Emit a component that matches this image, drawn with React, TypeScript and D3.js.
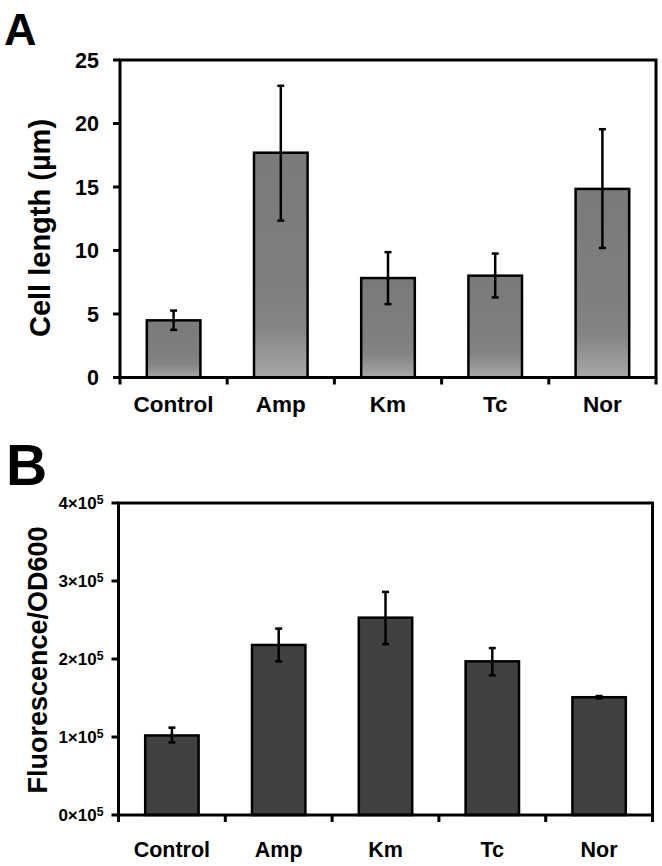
import React from "react";
import * as d3 from "d3";

const categories = ["Control", "Amp", "Km", "Tc", "Nor"];
const lengthMean = [4.5, 17.7, 7.83, 8.02, 14.85];
const lengthLow = [3.75, 12.35, 5.78, 6.3, 10.2];
const lengthHigh = [5.27, 22.97, 9.87, 9.76, 19.55];
const lengthTicks = [0, 5, 10, 15, 20, 25];

const fluorMean = [102000, 218000, 253000, 197000, 151000];
const fluorLow = [93000, 197000, 219000, 179000, 149500];
const fluorHigh = [112000, 239000, 286000, 214000, 152500];
const fluorTicks = [0, 100000, 200000, 300000, 400000];

const FONT = "'Liberation Sans', Arial, Helvetica, sans-serif";

type PanelProps = {
  letter: string;
  letterSize: number;
  letterX: number;
  letterY: number;
  left: number;
  right: number;
  top: number;
  bottom: number;
  yMax: number;
  ticks: number[];
  means: number[];
  lows: number[];
  highs: number[];
  fill: string;
  title: string;
  titleSize: number;
  titleX: number;
  titleY: number;
  tickFmt: (v: number) => React.ReactNode;
  tickSize: number;
  tickGap: number;
  labelY: number;
  labelSize: number;
};

function Panel(p: PanelProps) {
  const x = d3
    .scaleBand<string>()
    .domain(categories)
    .range([p.left, p.right])
    .paddingInner(0.5)
    .paddingOuter(0.25);
  const y = d3.scaleLinear().domain([0, p.yMax]).range([p.bottom, p.top]);
  const boundaries = d3
    .range(categories.length + 1)
    .map((i) => p.left + i * ((p.right - p.left) / categories.length));
  return (
    <g>
      <text x={p.letterX} y={p.letterY} fontFamily={FONT} fontWeight="bold" fontSize={p.letterSize}>
        {p.letter}
      </text>
      {categories.map((c, i) => {
        const bx = x(c)!;
        const cx = bx + x.bandwidth() / 2;
        return (
          <g key={c}>
            <rect
              x={bx}
              y={y(p.means[i])}
              width={x.bandwidth()}
              height={y(0) - y(p.means[i])}
              fill={p.fill}
              stroke="#000"
              strokeWidth={2.5}
            />
            <line x1={cx} x2={cx} y1={y(p.lows[i])} y2={y(p.highs[i])} stroke="#000" strokeWidth={2.5} />
            <line x1={cx - 3.5} x2={cx + 3.5} y1={y(p.lows[i])} y2={y(p.lows[i])} stroke="#000" strokeWidth={2.5} />
            <line x1={cx - 3.5} x2={cx + 3.5} y1={y(p.highs[i])} y2={y(p.highs[i])} stroke="#000" strokeWidth={2.5} />
            <text
              x={cx}
              y={p.labelY}
              textAnchor="middle"
              fontFamily={FONT}
              fontWeight="bold"
              fontSize={p.labelSize}
            >
              {c}
            </text>
          </g>
        );
      })}
      <rect
        x={p.left}
        y={p.top}
        width={p.right - p.left}
        height={p.bottom - p.top}
        fill="none"
        stroke="#000"
        strokeWidth={3}
      />
      {p.ticks.map((t) => (
        <g key={t}>
          <line x1={p.left - 7} x2={p.left} y1={y(t)} y2={y(t)} stroke="#000" strokeWidth={3} />
          <text
            x={p.left - p.tickGap}
            y={y(t)}
            dy="0.36em"
            textAnchor="end"
            fontFamily={FONT}
            fontWeight="bold"
            fontSize={p.tickSize}
          >
            {p.tickFmt(t)}
          </text>
        </g>
      ))}
      {boundaries.map((bx, i) => (
        <line key={i} x1={bx} x2={bx} y1={p.bottom} y2={p.bottom + 7} stroke="#000" strokeWidth={3} />
      ))}
      <text
        transform={`translate(${p.titleX},${p.titleY}) rotate(-90)`}
        textAnchor="middle"
        fontFamily={FONT}
        fontWeight="bold"
        fontSize={p.titleSize}
      >
        {p.title}
      </text>
    </g>
  );
}

export default function App() {
  return (
    <svg width={662} height={866} style={{ position: "absolute", left: 0, top: 0, background: "#fff" }}>
      <defs>
        <linearGradient id="gradA" x1="0" y1="0" x2="0" y2="1">
          <stop offset="0" stopColor="#7a7a7a" />
          <stop offset="0.6" stopColor="#7f7f7f" />
          <stop offset="0.78" stopColor="#858585" />
          <stop offset="1" stopColor="#a8a8a8" />
        </linearGradient>
      </defs>
      <rect width={662} height={866} fill="#fff" />
      <Panel
        letter="A"
        letterSize={45}
        letterX={4}
        letterY={45}
        left={120}
        right={656}
        top={60}
        bottom={377.5}
        yMax={25}
        ticks={lengthTicks}
        means={lengthMean}
        lows={lengthLow}
        highs={lengthHigh}
        fill="url(#gradA)"
        title="Cell length (µm)"
        titleSize={29}
        titleX={50}
        titleY={228}
        tickFmt={(v) => String(v)}
        tickSize={21.5}
        tickGap={21}
        labelY={412}
        labelSize={22.5}
      />
      <Panel
        letter="B"
        letterSize={57}
        letterX={6}
        letterY={485}
        left={118.5}
        right={652.5}
        top={503}
        bottom={815}
        yMax={400000}
        ticks={fluorTicks}
        means={fluorMean}
        lows={fluorLow}
        highs={fluorHigh}
        fill="#414141"
        title="Fluorescence/OD600"
        titleSize={27}
        titleX={47}
        titleY={660}
        tickFmt={(v) => (
          <>
            {`${v / 100000}×10`}
            <tspan dy="-0.45em" fontSize="0.72em">
              5
            </tspan>
          </>
        )}
        tickSize={17}
        tickGap={15}
        labelY={857}
        labelSize={21.5}
      />
    </svg>
  );
}
